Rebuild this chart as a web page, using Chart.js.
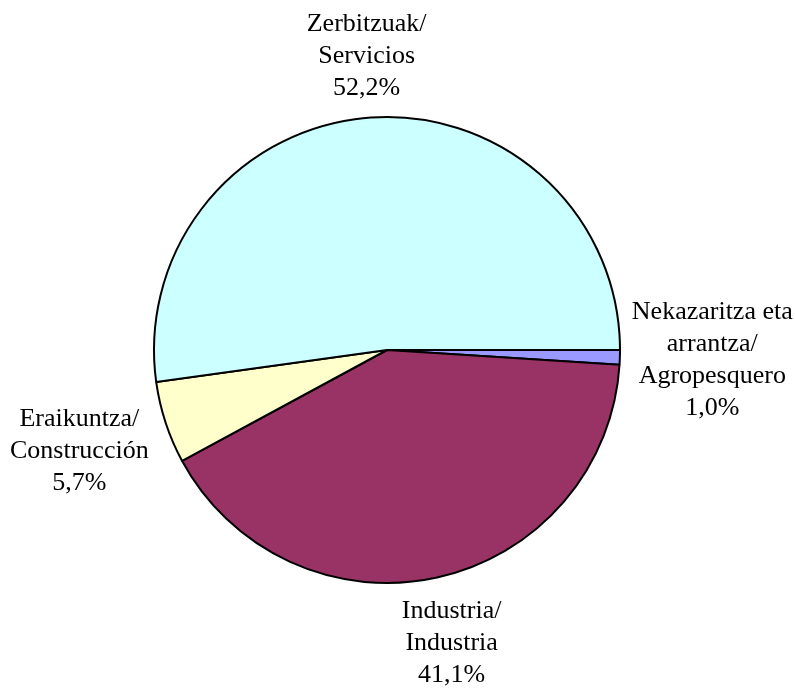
<!DOCTYPE html>
<html>
<head>
<meta charset="utf-8">
<script src="https://cdn.jsdelivr.net/npm/chart.js@4/dist/chart.umd.min.js"></script>
<style>
    html, body { margin: 0; padding: 0; background: #fff; }
    #wrap { width: 795px; height: 690px; }
</style>
</head>
<body>
<div id="wrap"><canvas id="pieChart" width="795" height="690"></canvas></div>
<script>
// sectors, clockwise from 3 o'clock
const sectors = [
    ['Nekazaritza eta', 'arrantza/', 'Agropesquero'],
    ['Industria/', 'Industria'],
    ['Eraikuntza/', 'Construcción'],
    ['Zerbitzuak/', 'Servicios']
];
const shares = [1.0, 41.1, 5.7, 52.2];
const sectorColors = ['#9999FF', '#993366', '#FFFFCC', '#CCFFFF'];

const outsideLabels = {
    id: 'outsideLabels',
    afterDatasetsDraw(chart) {
        const c = chart.ctx;
        const meta = chart.getDatasetMeta(0);
        const fontSize = 26;
        const lineH = 32;
        const gap = 10;
        c.save();
        c.font = fontSize + 'px "Liberation Serif", "Times New Roman", serif';
        c.fillStyle = '#000';
        c.textAlign = 'center';
        c.textBaseline = 'middle';
        meta.data.forEach(function (arc, i) {
            const p = arc.getProps(['x', 'y', 'startAngle', 'endAngle', 'outerRadius'], true);
            const mid = (p.startAngle + p.endAngle) / 2;
            const lines = sectors[i].concat([shares[i].toFixed(1).replace('.', ',') + '%']);
            let w = 0;
            lines.forEach(function (l) { w = Math.max(w, c.measureText(l).width); });
            const h = lines.length * lineH;
            const cos = Math.cos(mid), sin = Math.sin(mid);
            const ext = Math.abs(cos) * w / 2 + Math.abs(sin) * h / 2;
            const d = p.outerRadius + gap + ext;
            const cx = p.x + cos * d;
            const cy = p.y + sin * d;
            lines.forEach(function (l, k) {
                c.fillText(l, cx, cy - h / 2 + lineH / 2 + k * lineH);
            });
        });
        c.restore();
    }
};

new Chart(document.getElementById('pieChart').getContext('2d'), {
    type: 'pie',
    data: {
        labels: sectors.map(function (s) { return s.join(' '); }),
        datasets: [{
            data: shares,
            backgroundColor: sectorColors,
            borderColor: '#000',
            borderWidth: 2,
            hoverOffset: 0
        }]
    },
    options: {
        responsive: false,
        animation: false,
        rotation: 90,
        layout: {
            padding: { top: 116, bottom: 106, left: 153, right: 174 }
        },
        plugins: {
            legend: { display: false },
            tooltip: { enabled: false }
        }
    },
    plugins: [outsideLabels]
});
</script>
</body>
</html>
